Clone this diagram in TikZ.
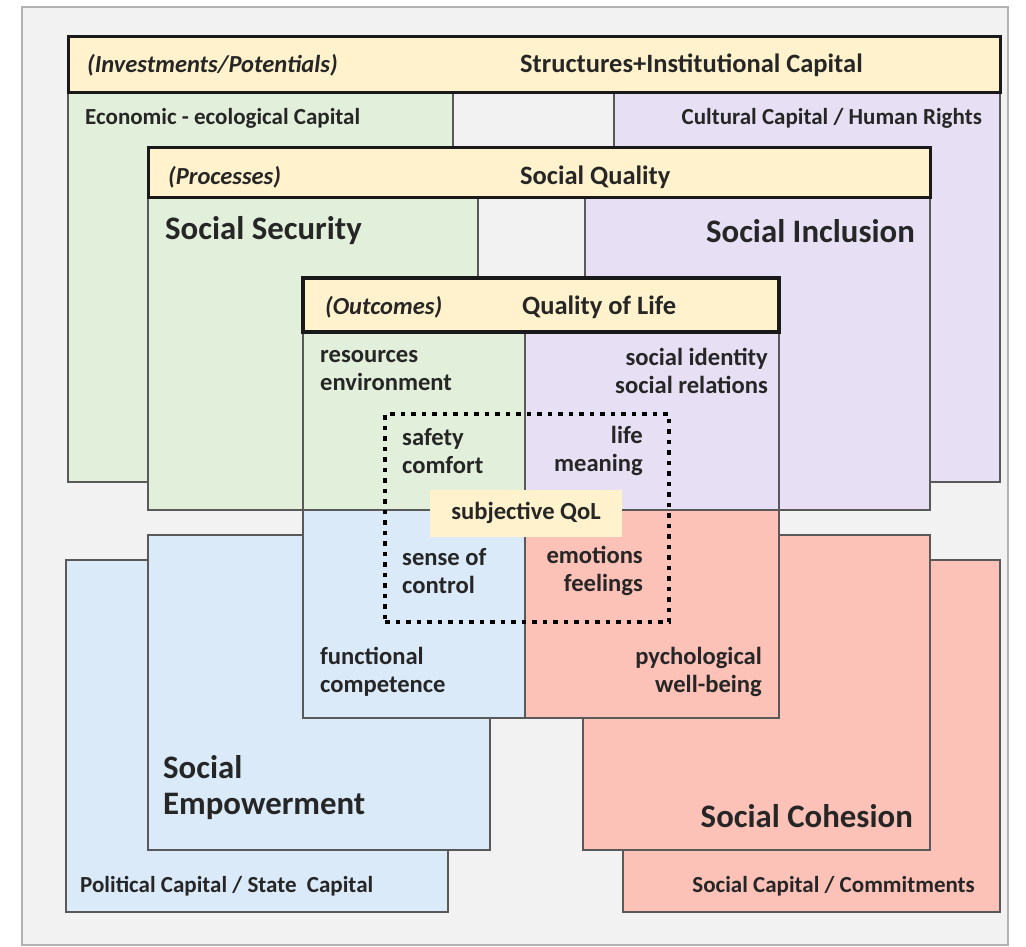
\documentclass[tikz,border=0pt]{standalone}
\usepackage{fontspec}
\setmainfont{Carlito}
\usepackage{tikz}
\usetikzlibrary{positioning, calc, backgrounds}
\usepackage{xcolor}
\definecolor{qyellow}{HTML}{FFF2CC}
\definecolor{qgreen}{HTML}{E2EFDA}
\definecolor{qpurple}{HTML}{E7E0F4}
\definecolor{qblue}{HTML}{DAEAF9}
\definecolor{qred}{HTML}{FCC1B7}
\definecolor{qframe}{HTML}{F2F2F2}
\definecolor{qtext}{HTML}{262626}

\begin{document}
\begin{tikzpicture}[
    x=1pt, y=-1pt,
    frame/.style={rectangle, draw=black!30, line width=1.5pt, fill=qframe, anchor=north west, inner sep=0pt, outer sep=0pt},
    area/.style={rectangle, draw=black!65, line width=2pt, anchor=north west, inner sep=0pt, outer sep=0pt},
    band/.style={rectangle, draw=black!90, line width=3pt, fill=qyellow, anchor=north west, inner sep=0pt, outer sep=0pt},
    bandtext/.style={text=qtext, inner sep=0pt, font=\fontsize{26.5}{31}\selectfont\bfseries},
    bandnote/.style={text=qtext, inner sep=0pt, font=\fontsize{24.5}{29}\selectfont\bfseries\itshape},
    sidetext/.style={text=qtext, inner sep=0pt, font=\fontsize{23}{27}\selectfont\bfseries},
    bigtext/.style={text=qtext, inner sep=0pt, align=left, font=\fontsize{32.8}{36}\selectfont\bfseries},
    innertext/.style={text=qtext, inner sep=0pt, font=\fontsize{24.6}{28}\selectfont\bfseries},
    subjective/.style={dotted, line width=4pt, dash pattern=on 4.5pt off 6pt, draw=black}
]
    \useasboundingbox (0,0) rectangle (1026,947);
    \node [frame, minimum width=986pt, minimum height=938pt] (frame) at (22,7) {};

    % Investments / potentials
    \node [area, fill=qgreen, minimum width=385pt, minimum height=389pt] (econ) at (68,93) {};
    \node [area, fill=qpurple, minimum width=386pt, minimum height=389pt] (cult) at (614,93) {};
    \node [band, minimum width=932pt, minimum height=56pt] (invband) at (68,37) {};

    % Processes
    \node [area, fill=qgreen, minimum width=330pt, minimum height=312pt] (security) at (148,198) {};
    \node [area, fill=qpurple, minimum width=345pt, minimum height=312pt] (inclusion) at (585,198) {};
    \node [band, minimum width=782pt, minimum height=50pt] (procband) at (148,148) {};

    % Lower capitals
    \node [area, fill=qblue, minimum width=382pt, minimum height=352pt] (political) at (66,560) {};
    \node [area, fill=qred, minimum width=377pt, minimum height=352pt] (socialcap) at (623,560) {};
    \node [area, fill=qblue, minimum width=342pt, minimum height=315pt] (empower) at (148,535) {};
    \node [area, fill=qred, minimum width=347pt, minimum height=315pt] (cohesion) at (583,535) {};

    % Quality of life quadrants
    \node [area, fill=qgreen, minimum width=222pt, minimum height=178pt] (qgreenq) at (303,332) {};
    \node [area, fill=qpurple, minimum width=254pt, minimum height=178pt] (qpurpleq) at (525,332) {};
    \node [area, fill=qblue, minimum width=222pt, minimum height=208pt] (qblueq) at (303,510) {};
    \node [area, fill=qred, minimum width=254pt, minimum height=208pt] (qredq) at (525,510) {};
    \node [band, line width=3.5pt, minimum width=476pt, minimum height=54pt] (qolband) at (303,278) {};

    % Subjective QoL
    \node [subjective, rectangle, anchor=north west, minimum width=284pt, minimum height=208pt, inner sep=0pt] (subjbox) at (383,412) {};
    \node [rectangle, fill=qyellow, minimum width=192pt, minimum height=47pt, inner sep=0pt] (subjlabel) at (526,513) {};
    \node [innertext] (subjtext) at (subjlabel.center) {subjective QoL};

    % Band titles
    \node [bandnote, anchor=west] (invtext) at (87,65) {(Investments/Potentials)};
    \node [bandtext, anchor=west] (structtext) at (520,65) {Structures+Institutional Capital};
    \node [bandnote, anchor=west] (proctext) at (168,177) {(Processes)};
    \node [bandtext, anchor=west] (sqtext) at (520,177) {Social Quality};
    \node [bandnote, anchor=west] (outctext) at (325,307) {(Outcomes)};
    \node [bandtext, anchor=west] (qoltext) at (522,307) {Quality of Life};

    % Capital labels
    \node [sidetext, anchor=west] (econtext) at (85,118) {Economic - ecological Capital};
    \node [sidetext, anchor=east] (culttext) at (982,118) {Cultural Capital / Human Rights};
    \node [sidetext, anchor=west] (poltext) at (80,886) {Political Capital / State\ \ Capital};
    \node [sidetext, anchor=east] (soccaptext) at (975,886) {Social Capital / Commitments};

    % Social quality labels
    \node [bigtext, anchor=west] (sectext) at (165,231) {Social Security};
    \node [bigtext, anchor=east] (inctext) at (915,231) {Social Inclusion};
    \node [bigtext, anchor=west] (emptext) at (163,788) {Social\\Empowerment};
    \node [bigtext, anchor=east] (cohtext) at (913,816) {Social Cohesion};

    % Quadrant labels
    \node [innertext, anchor=west, align=left] (restext) at (320,371) {resources\\environment};
    \node [innertext, anchor=east, align=right] (idtext) at (768,371) {social identity\\social relations};
    \node [innertext, anchor=west, align=left] (safetext) at (402,451) {safety\\comfort};
    \node [innertext, anchor=east, align=right] (lifetext) at (643,451) {life\\meaning};
    \node [innertext, anchor=west, align=left] (sensetext) at (402,571) {sense of\\control};
    \node [innertext, anchor=east, align=right] (emotext) at (643,571) {emotions\\feelings};
    \node [innertext, anchor=west, align=left] (functext) at (320,672) {functional\\competence};
    \node [innertext, anchor=east, align=right] (psytext) at (762,672) {pychological\\well-being};
\end{tikzpicture}
\end{document}
